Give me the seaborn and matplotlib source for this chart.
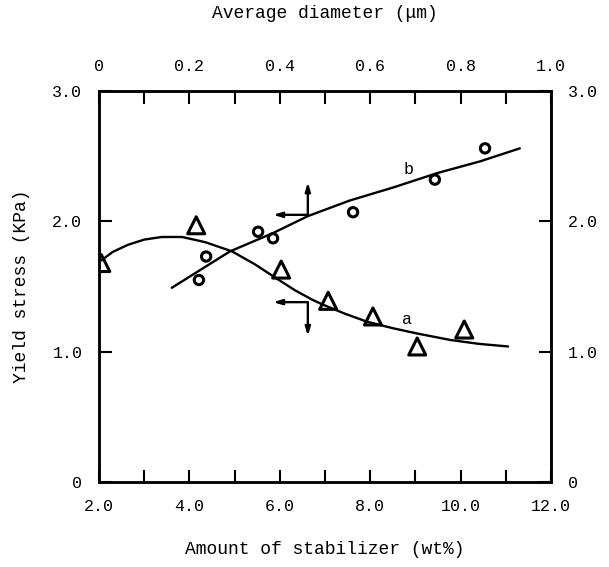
import numpy as np
import pandas as pd
import matplotlib
matplotlib.use("Agg")
import matplotlib.pyplot as plt
from matplotlib.ticker import MultipleLocator
import seaborn as sns

# series a: yield stress vs amount of stabilizer (bottom axis)
stab_pts = [2.05, 4.15, 6.03, 7.07, 8.06, 9.04, 10.08]
stress_a_pts = [1.68, 1.97, 1.63, 1.39, 1.27, 1.04, 1.17]
stab_curve = [2.05, 2.30, 2.64, 3.00, 3.39, 3.84, 4.35, 4.94, 5.45, 5.89,
              6.34, 6.71, 6.96, 7.45, 7.93, 8.50, 9.03, 9.77, 10.40, 11.05]
stress_a_curve = [1.70, 1.765, 1.82, 1.86, 1.88, 1.88, 1.84, 1.77, 1.67, 1.57,
                  1.47, 1.40, 1.36, 1.29, 1.23, 1.18, 1.14, 1.09, 1.06, 1.04]

# series b: yield stress vs average diameter (top axis)
diam_pts = [0.221, 0.237, 0.352, 0.385, 0.562, 0.743, 0.854]
stress_b_pts = [1.55, 1.73, 1.92, 1.87, 2.07, 2.32, 2.56]
diam_curve = [0.161, 0.290, 0.385, 0.462, 0.555, 0.651, 0.748, 0.843, 0.931]
stress_b_curve = [1.49, 1.77, 1.91, 2.04, 2.16, 2.26, 2.37, 2.46, 2.56]

sns.set_style("ticks", {"axes.edgecolor": "black", "text.color": "black",
                        "xtick.color": "black", "ytick.color": "black",
                        "axes.labelcolor": "black"})
plt.rcParams["font.family"] = ["Liberation Mono", "DejaVu Sans Mono"]

fig = plt.figure(figsize=(6.09, 5.67), dpi=100)
ax = fig.add_axes([0.1626, 0.1499, 0.7422, 0.6896])
ax_top = ax.twiny()

sns.lineplot(x=stab_curve, y=stress_a_curve, sort=False, color="black", lw=1.7, ax=ax)
sns.scatterplot(x=stab_pts, y=stress_a_pts, marker="^", s=150, facecolor="none",
                edgecolor="black", linewidth=2.2, ax=ax, zorder=3)

sns.lineplot(x=diam_curve, y=stress_b_curve, sort=False, color="black", lw=1.7, ax=ax_top)
sns.scatterplot(x=diam_pts, y=stress_b_pts, marker="o", s=45, facecolor="none",
                edgecolor="black", linewidth=2.2, ax=ax_top, zorder=3)

ax.set_xlim(2.0, 12.0)
ax.set_ylim(0, 3.0)
ax_top.set_xlim(0, 1.0)
ax_top.set_ylim(0, 3.0)

# arrows showing which axis each curve belongs to
arrow = dict(arrowstyle="-|>,head_length=0.5,head_width=0.15", color="black", lw=1.7,
             shrinkA=0, shrinkB=0)
ax.annotate("", xy=(6.62, 2.30), xytext=(6.62, 2.05), arrowprops=arrow)
ax.annotate("", xy=(5.85, 2.05), xytext=(6.62, 2.05), arrowprops=arrow)
ax.annotate("", xy=(5.85, 1.38), xytext=(6.62, 1.38), arrowprops=arrow)
ax.annotate("", xy=(6.62, 1.12), xytext=(6.62, 1.38), arrowprops=arrow)

ax.text(8.84, 2.40, "b", fontsize=12, ha="center", va="center")
ax.text(8.81, 1.25, "a", fontsize=12, ha="center", va="center")

ax.xaxis.set_major_locator(MultipleLocator(2.0))
ax.xaxis.set_minor_locator(MultipleLocator(1.0))
ax.set_xticklabels([f"{v:.1f}" for v in ax.get_xticks()])
ax.set_yticks([0, 1.0, 2.0, 3.0])
ax.set_yticklabels(["0", "1.0", "2.0", "3.0"])
ax_top.xaxis.set_minor_locator(MultipleLocator(0.1))
ax_top.set_xticks([0, 0.2, 0.4, 0.6, 0.8, 1.0])
ax_top.set_xticklabels(["0", "0.2", "0.4", "0.6", "0.8", "1.0"])

ax.tick_params(axis="both", which="both", direction="in", labelsize=12, width=1.5,
               length=9, right=True, labelright=True, pad=12, colors="black")
ax_top.tick_params(axis="x", which="both", direction="in", labelsize=12, width=1.5,
                   length=9, pad=12, colors="black")
ax_top.tick_params(axis="y", left=False, right=False, labelleft=False, labelright=False)

for a in (ax, ax_top):
    for sp in a.spines.values():
        sp.set_linewidth(1.8)
        sp.set_color("black")

ax.set_xlabel("Amount of stabilizer (wt%)", fontsize=13, labelpad=20, color="black")
ax.set_ylabel("Yield stress (KPa)", fontsize=13, labelpad=16, color="black")
ax_top.set_xlabel("Average diameter (\u03bcm)", fontsize=13, labelpad=30, color="black")

fig.savefig("out.png", dpi=100)
